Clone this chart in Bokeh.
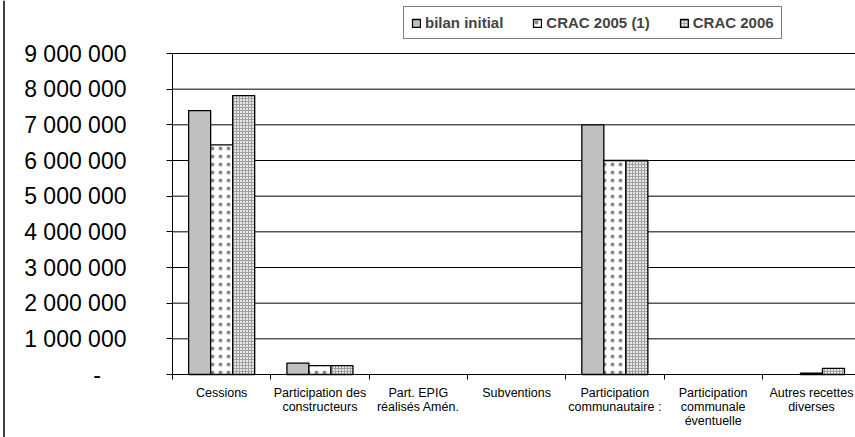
from bokeh.plotting import figure
from bokeh.models import (ColumnDataSource, Range1d, FixedTicker, Legend, LegendItem,
                          LinearAxis, Span)
from bokeh.embed import file_html
from bokeh.resources import INLINE

# Recettes de l'opération, par poste et par version du bilan (en euros)
categories = [
    "Cessions",
    "Participation des\nconstructeurs",
    "Part. EPIG\nréalisés Amén.",
    "Subventions",
    "Participation\ncommunautaire :",
    "Participation\ncommunale\néventuelle",
    "Autres recettes\ndiverses",
]
bilan_initial = [7400000, 320000, 0, 0, 7000000, 0, 0]
crac_2005 = [6440000, 250000, 0, 0, 6000000, 0, 40000]
crac_2006 = [7820000, 250000, 0, 0, 6000000, 0, 170000]

series_names = ["bilan initial", "CRAC 2005 (1)", "CRAC 2006"]
y_ticks = [0, 1000000, 2000000, 3000000, 4000000, 5000000, 6000000, 7000000, 8000000, 9000000]
y_tick_labels = ["-\u00a0\u00a0\u00a0\u00a0", "1 000 000", "2 000 000", "3 000 000", "4 000 000",
                 "5 000 000", "6 000 000", "7 000 000", "8 000 000", "9 000 000"]

FONT = "Liberation Sans"

# page geometry (pixels): the data area starts at AX_X / AX_Y, top gridline at TOP_Y
W, H = 855, 437
AX_X, AX_Y, TOP_Y = 172, 374, 53
CAT_PX = 98.3
y_max = y_ticks[-1]
px_per_y = (AX_Y - TOP_Y) / y_max

x_start = -AX_X / CAT_PX
x_end = (W - AX_X) / CAT_PX
y_start = -(H - AX_Y) / px_per_y
y_end = y_max + TOP_Y / px_per_y

centers = [i + 0.5 for i in range(len(categories))]
bar_w = 0.224

p = figure(width=W, height=H, output_backend="svg", toolbar_location=None,
           x_range=Range1d(x_start, x_end), y_range=Range1d(y_start, y_end),
           x_axis_location=None, y_axis_location=None,
           min_border=0, min_border_left=0, min_border_right=0,
           min_border_top=0, min_border_bottom=0)
p.outline_line_color = None
p.background_fill_color = "white"
p.border_fill_color = "white"
p.grid.visible = False

# horizontal gridlines across the data area
p.segment(x0=0, x1=x_end, y0="y", y1="y", source=ColumnDataSource(dict(y=y_ticks)),
          line_color="black", line_width=1)

styles = [
    dict(fill_color="#c0c0c0", hatch_pattern=None),
    dict(fill_color="white", hatch_pattern="dot", hatch_color="#8a8a8a",
         hatch_scale=8, hatch_weight=0.5),
    dict(fill_color="#e8e8e8", hatch_pattern="+", hatch_color="#a0a0a0",
         hatch_scale=3, hatch_weight=1),
]

renderers = []
for k, (vals, st) in enumerate(zip([bilan_initial, crac_2005, crac_2006], styles)):
    src = ColumnDataSource(dict(
        x=[c + (k - 1) * bar_w for c in centers],
        top=vals,
        edge=[0.0 if v == 0 else 1.0 for v in vals],  # empty bars get no outline
    ))
    r = p.vbar(x="x", top="top", bottom=0, width=bar_w, source=src,
               line_color="black", line_width=1.3, line_alpha="edge", **st)
    renderers.append(r)

# y axis
yaxis = LinearAxis(fixed_location=0, bounds=(0, y_max), ticker=FixedTicker(ticks=y_ticks))
yaxis.major_label_overrides = {t: s for t, s in zip(y_ticks, y_tick_labels)}
yaxis.major_label_text_font = FONT
yaxis.major_label_text_font_size = "23px"
yaxis.major_label_text_color = "black"
yaxis.major_tick_out = 6
yaxis.major_tick_in = 0
yaxis.minor_tick_line_color = None
yaxis.major_label_standoff = 40
yaxis.axis_line_color = "black"
yaxis.major_tick_line_color = "black"
p.add_layout(yaxis, "left")

# x axis: labels centred on categories, tick marks on boundaries
xaxis = LinearAxis(fixed_location=0, bounds=(0, x_end),
                   ticker=FixedTicker(ticks=centers,
                                      minor_ticks=list(range(len(categories) + 1))))
xaxis.major_label_overrides = {c: name for c, name in zip(centers, categories)}
xaxis.major_label_text_font = FONT
xaxis.major_label_text_font_size = "12.5px"
xaxis.major_label_text_line_height = 1.0
xaxis.major_label_text_color = "black"
xaxis.major_tick_out = 0
xaxis.major_tick_in = 0
xaxis.minor_tick_out = 5
xaxis.minor_tick_in = 0
xaxis.minor_tick_line_color = "black"
xaxis.major_label_standoff = 6
xaxis.axis_line_color = "black"
p.add_layout(xaxis, "below")

legend = Legend(
    items=[LegendItem(label=n, renderers=[r]) for n, r in zip(series_names, renderers)],
    orientation="horizontal", location=(403, H - 39), margin=0,
    glyph_width=10, glyph_height=10, label_standoff=4, spacing=29,
    padding=7, label_height=7,
    label_text_font=FONT, label_text_font_size="15px", label_text_font_style="bold",
    border_line_color="black", border_line_width=1, background_fill_alpha=1,
)
p.add_layout(legend, "center")

# chart-area border on the left edge
p.add_layout(Span(location=(3.5 - AX_X) / CAT_PX, dimension="height",
                  line_color="black", line_width=1.5))

open("out.html", "w").write(file_html(p, INLINE))
